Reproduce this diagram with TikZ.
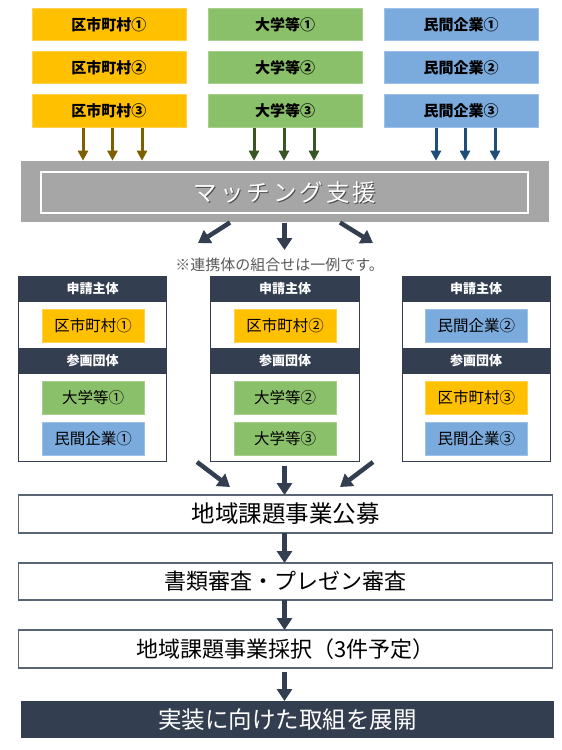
\documentclass[tikz,border=0pt]{standalone}
\usepackage{fontspec}
\setmainfont{Noto Sans CJK JP}
\usetikzlibrary{arrows.meta,calc}
\definecolor{cOr}{HTML}{FFC000}
\definecolor{cOrL}{HTML}{FFD24D}
\definecolor{cGr}{HTML}{8BC06A}
\definecolor{cGrL}{HTML}{A6D08C}
\definecolor{cBl}{HTML}{7AABDC}
\definecolor{cBlL}{HTML}{9CC2E8}
\definecolor{cGray}{HTML}{A6A6A6}
\definecolor{cNavy}{HTML}{333F50}
\definecolor{cArO}{HTML}{7F6000}
\definecolor{cArG}{HTML}{375623}
\definecolor{cArB}{HTML}{1F4E79}
\definecolor{cEdge}{HTML}{596475}
\definecolor{cNote}{HTML}{595959}
\begin{document}
\begin{tikzpicture}[x=1pt,y=-1pt,
  every node/.style={inner sep=0pt, outer sep=0pt},
  topbox/.style={rectangle, minimum width=154pt, minimum height=32.5pt, line width=0.8pt, font=\fontsize{15}{18}\selectfont\bfseries},
  orbox/.style={fill=cOr, draw=cOrL},
  grbox/.style={fill=cGr, draw=cGrL},
  blbox/.style={fill=cBl, draw=cBlL},
  inbox/.style={rectangle, minimum width=102pt, minimum height=33pt, line width=0.8pt, font=\fontsize{15.5}{18}\selectfont},
  frame/.style={rectangle, draw=cNavy, line width=1pt, minimum width=148.4pt, minimum height=185.7pt},
  hdr/.style={rectangle, fill=cNavy, minimum width=148.4pt, text=white, font=\fontsize{13}{16}\selectfont\bfseries},
  stepbox/.style={rectangle, draw=cEdge, line width=1.3pt, minimum width=534pt},
  sarrO/.style={draw=cArO, line width=3pt, -{Triangle[width=10pt,length=10pt]}},
  sarrG/.style={draw=cArG, line width=3pt, -{Triangle[width=10pt,length=10pt]}},
  sarrB/.style={draw=cArB, line width=3pt, -{Triangle[width=10pt,length=10pt]}},
  bigarr/.style={draw=cNavy, line width=4.5pt, -{Triangle[width=15pt,length=12pt]}}
]
\useasboundingbox (0,0) rectangle (562,750);

% top boxes
\node[topbox,orbox] (o1) at (108.9,24.5) {区市町村①};
\node[topbox,orbox] (o2) at (108.9,67.5) {区市町村②};
\node[topbox,orbox] (o3) at (108.9,111) {区市町村③};
\node[topbox,grbox] (g1) at (285,24.5) {大学等①};
\node[topbox,grbox] (g2) at (285,67.5) {大学等②};
\node[topbox,grbox] (g3) at (285,111) {大学等③};
\node[topbox,blbox] (b1) at (461,24.5) {民間企業①};
\node[topbox,blbox] (b2) at (461,67.5) {民間企業②};
\node[topbox,blbox] (b3) at (461,111) {民間企業③};

% matching bar
\node[rectangle, fill=cGray, minimum width=528.3pt, minimum height=61.3pt] (match) at (284.85,191.35) {};
\node[rectangle, draw=white, line width=1.5pt, minimum width=487pt, minimum height=41pt] (matchin) at (284.5,192.5) {};
\node[text=black!70, font=\fontsize{23.5}{28}\selectfont] (mshadow) at (286,194) {マ\kern3ptッ\kern3ptチ\kern3ptン\kern3ptグ\kern3pt支\kern3pt援};
\node[text=white, font=\fontsize{23.5}{28}\selectfont] (mtext) at (285,192.5) {マ\kern3ptッ\kern3ptチ\kern3ptン\kern3ptグ\kern3pt支\kern3pt援};

% small arrows into the bar
\coordinate (oa1) at (83,128);  \coordinate (oa2) at (112.5,128); \coordinate (oa3) at (142,128);
\coordinate (ga1) at (254,128); \coordinate (ga2) at (284,128);   \coordinate (ga3) at (314,128);
\coordinate (ba1) at (436,128); \coordinate (ba2) at (465,128);   \coordinate (ba3) at (495,128);
\foreach \c in {oa1,oa2,oa3} \draw[sarrO] (\c) -- (\c |- match.north);
\foreach \c in {ga1,ga2,ga3} \draw[sarrG] (\c) -- (\c |- match.north);
\foreach \c in {ba1,ba2,ba3} \draw[sarrB] (\c) -- (\c |- match.north);

% arrows out of the bar
\coordinate (m1) at (230,222.5); \coordinate (m1e) at (198,243);
\coordinate (m2) at (284.5,222.5); \coordinate (m2e) at (284.5,250);
\coordinate (m3) at (340,222.5); \coordinate (m3e) at (373,243);
\draw[bigarr] (m1) -- (m1e);
\draw[bigarr] (m2) -- (m2e);
\draw[bigarr] (m3) -- (m3e);

% note
\node[text=cNote, font=\fontsize{15}{18}\selectfont] (note) at (279.5,265) {※連携体の組合せは一例です。};

% groups
\node[frame, fill=white] (G1) at (92.5,368.85) {};
\node[frame, fill=white] (G2) at (285,368.85) {};
\node[frame, fill=white] (G3) at (476.2,368.85) {};
\foreach \g/\x in {G1/92.5,G2/285,G3/476.2}{
  \node[hdr, minimum height=26pt] (\g h1) at (\x,289) {申請主体};
  \node[hdr, minimum height=26.3pt] (\g h2) at (\x,360.85) {参画団体};
  \draw[cNavy, line width=1pt] (\g.north west) rectangle (\g.south east);
}
\node[inbox,orbox] (G1a) at (93,326) {区市町村①};
\node[inbox,grbox] (G1b) at (93,398) {大学等①};
\node[inbox,blbox] (G1c) at (93,439) {民間企業①};
\node[inbox,orbox] (G2a) at (285.2,326) {区市町村②};
\node[inbox,grbox] (G2b) at (285.2,398) {大学等②};
\node[inbox,grbox] (G2c) at (285.2,439) {大学等③};
\node[inbox,blbox] (G3a) at (476.3,326) {民間企業②};
\node[inbox,orbox] (G3b) at (476.3,398) {区市町村③};
\node[inbox,blbox] (G3c) at (476.3,439) {民間企業③};

% steps
\node[stepbox, minimum height=38pt, font=\fontsize{23.5}{27}\selectfont] (s1) at (285.5,514) {地域課題事業公募};
\node[stepbox, minimum height=37pt, font=\fontsize{22}{26}\selectfont] (s2) at (285.5,581.5) {書類審査・プレゼン審査};
\node[stepbox, minimum height=38pt, font=\fontsize{22}{26}\selectfont] (s3) at (285.5,649) {地域課題事業採択（3件予定）};
\node[rectangle, fill=cNavy, minimum width=533.3pt, minimum height=37pt, text=white, font=\fontsize{23.5}{27}\selectfont] (s4) at (287.3,719.5) {実装に向けた取組を展開};

% converging arrows
\coordinate (c1) at (197,462); \coordinate (c1e) at (230,487);
\coordinate (c2) at (284.5,466); \coordinate (c3) at (373,462); \coordinate (c3e) at (340,487);
\draw[bigarr] (c1) -- (c1e);
\draw[bigarr] (c2) -- (c2 |- s1.north);
\draw[bigarr] (c3) -- (c3e);

\draw[bigarr] (s1.south -| c2) -- (s2.north -| c2);
\draw[bigarr] (s2.south -| c2) -- (s3.north -| c2);
\draw[bigarr, shorten <=4pt] (s3.south -| c2) -- (s4.north -| c2);
\end{tikzpicture}
\end{document}
